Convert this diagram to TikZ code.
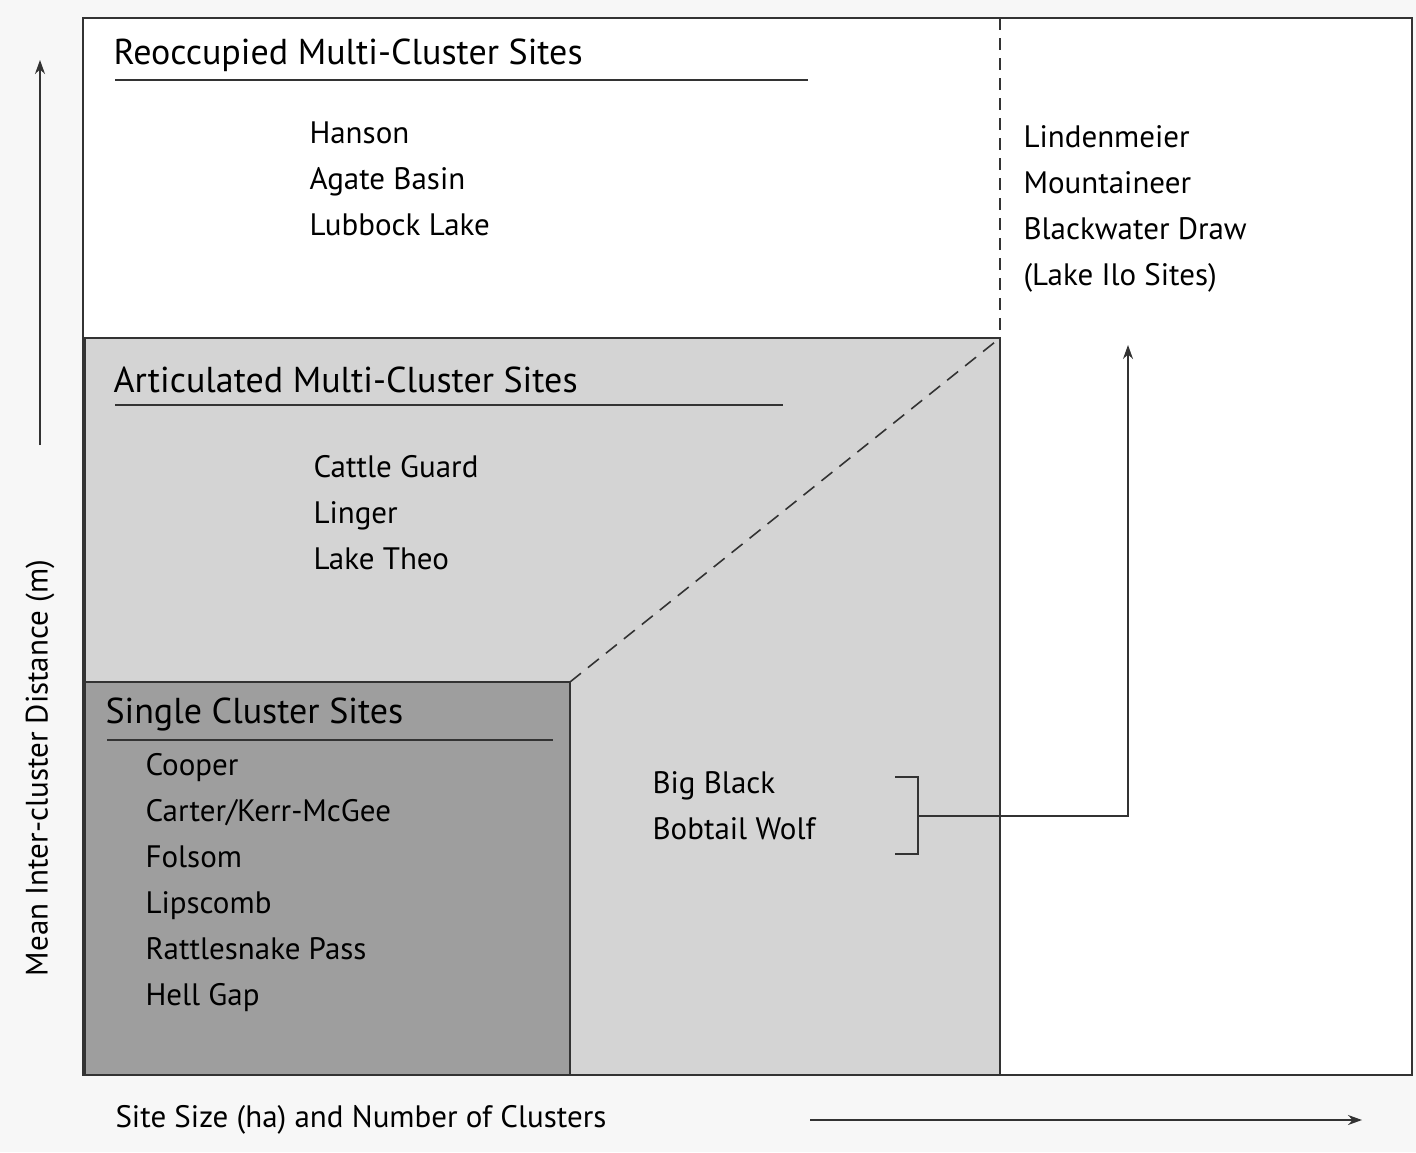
\documentclass[tikz,border=0pt]{standalone}
\usepackage{fontspec}
\setmainfont{PT Sans}
\usetikzlibrary{arrows.meta}
\begin{document}
\begin{tikzpicture}[x=1pt,y=-1pt,
  ttl/.style={anchor=west,font=\fontsize{36}{40}\selectfont},
  lst/.style={anchor=north west,align=left,font=\fontsize{31}{46}\selectfont},
  ln/.style={line width=1.6pt,black!80},
  arr/.style={ln,-{Stealth[length=14pt,width=10pt]}}]
\useasboundingbox (0,0) rectangle (1416,1152);
\fill[black!3] (0,0) rectangle (1416,1152);
\draw[ln,fill=white] (83,18) rectangle (1412,1075);
\draw[ln,fill=black!17] (85,338) rectangle (1000,1075);
\draw[ln,fill=black!38] (85,682) rectangle (570,1075);
\draw[ln,dashed,dash pattern=on 12pt off 8pt] (1000,18) -- (1000,338);
\draw[ln,dashed,dash pattern=on 14pt off 9pt] (570,682) -- (1000,338);
\node[ttl] (t1) at (110,55) {Reoccupied Multi-Cluster Sites};
\draw[ln] (115,80) -- (808,80);
\node[ttl] (t2) at (110,380) {Articulated Multi-Cluster Sites};
\draw[ln] (115,405) -- (783,405);
\node[ttl] (t3) at (102,714) {Single Cluster Sites};
\draw[ln] (107,740) -- (553,740);
\node[lst] (l1) at (306,118) {Hanson\\Agate Basin\\Lubbock Lake};
\node[lst] (l2) at (1020,122) {Lindenmeier\\Mountaineer\\Blackwater Draw\\(Lake Ilo Sites)};
\node[lst] (l3) at (310,452) {Cattle Guard\\Linger\\Lake Theo};
\node[lst] (l4) at (142,750) {Cooper\\Carter/Kerr-McGee\\Folsom\\Lipscomb\\Rattlesnake Pass\\Hell Gap};
\node[lst] (l5) at (649,768) {Big Black\\Bobtail Wolf};
\coordinate (b1) at (895,777); \coordinate (b2) at (918,777);
\coordinate (b3) at (918,854); \coordinate (b4) at (895,854);
\coordinate (bm) at (918,816); \coordinate (bc) at (1128,816); \coordinate (bt) at (1128,345);
\draw[ln] (b1) -- (b2) -- (b3) -- (b4);
\draw[arr] (bm) -- (bc) -- (bt);
\coordinate (ya) at (40,445); \coordinate (yb) at (40,60);
\draw[arr] (ya) -- (yb);
\node[rotate=90,font=\fontsize{31}{36}\selectfont] (yl) at (40,768) {Mean Inter-cluster Distance (m)};
\node[anchor=west,font=\fontsize{31}{36}\selectfont] (xl) at (112,1120) {Site Size (ha) and Number of Clusters};
\coordinate (xa) at (810,1120); \coordinate (xb) at (1362,1120);
\draw[arr] (xa) -- (xb);
\end{tikzpicture}
\end{document}
